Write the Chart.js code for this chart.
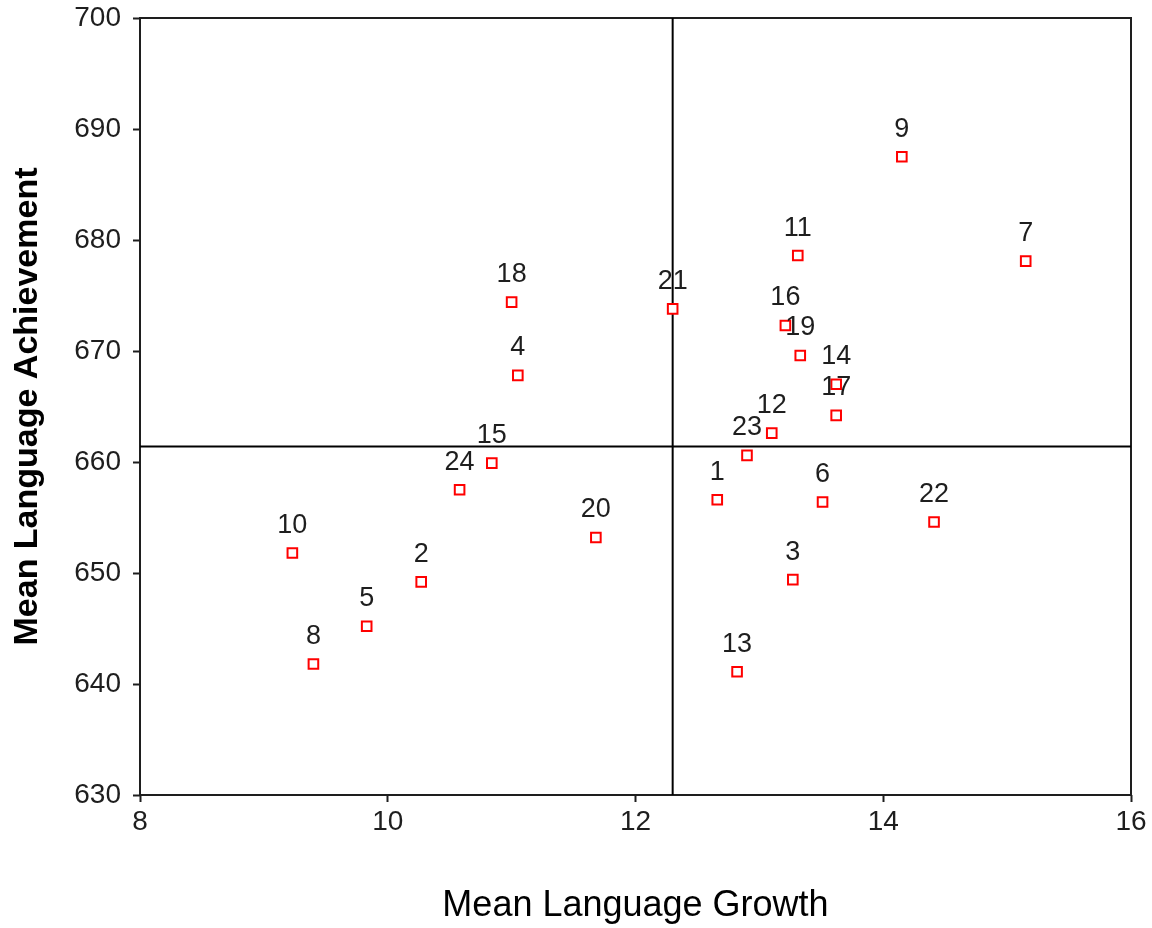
<!DOCTYPE html>
<html>
<head>
<meta charset="utf-8">
<title>Mean Language Growth vs Achievement</title>
<script src="https://cdn.jsdelivr.net/npm/chart.js@4/dist/chart.umd.min.js"></script>
<style>
  html, body { margin: 0; padding: 0; background: #ffffff; }
  canvas { display: block; }
</style>
</head>
<body>
<canvas id="chart" width="1152" height="928"></canvas>
<script>
// School identifiers shown above each marker
const schoolIds = [1, 2, 3, 4, 5, 6, 7, 8, 9, 10, 11, 12, 13, 14, 15, 16, 17, 18, 19, 20, 21, 22, 23, 24];

// Mean language growth per school (x)
const growth = [12.66, 10.27, 13.27, 11.05, 9.83, 13.51, 15.15, 9.40, 14.15, 9.23, 13.31, 13.10,
                12.82, 13.62, 10.84, 13.21, 13.62, 11.00, 13.33, 11.68, 12.30, 14.41, 12.90, 10.58];

// Mean language achievement per school (y)
const achievement = [656.6, 649.2, 649.4, 667.8, 645.2, 656.4, 678.1, 641.8, 687.5, 651.8, 678.6, 662.6,
                     641.1, 667.0, 659.9, 672.3, 664.2, 674.4, 669.6, 653.2, 673.8, 654.6, 660.6, 657.5];

// Overall means marking the quadrant lines
const growthMean = 12.30;
const achievementMean = 661.4;

// Axis ticks
const xTicks = [8, 10, 12, 14, 16];
const yTicks = [630, 640, 650, 660, 670, 680, 690, 700];

const FONT = '"Liberation Sans", Arial, Helvetica, sans-serif';
const INK = '#1e1e1e';

// Number labels drawn above every school marker
const pointLabels = {
  id: 'pointLabels',
  afterDatasetsDraw(chart) {
    const meta = chart.getDatasetMeta(0);
    const ctx = chart.ctx;
    ctx.save();
    ctx.font = '27px ' + FONT;
    ctx.fillStyle = INK;
    ctx.textAlign = 'center';
    ctx.textBaseline = 'alphabetic';
    meta.data.forEach((el, i) => {
      ctx.fillText(String(schoolIds[i]), el.x, el.y - 20);
    });
    ctx.restore();
  }
};

// Box around the plotting area
const plotFrame = {
  id: 'plotFrame',
  beforeDatasetsDraw(chart) {
    const { ctx, chartArea: a } = chart;
    ctx.save();
    ctx.strokeStyle = INK;
    ctx.lineWidth = 2;
    ctx.strokeRect(a.left, a.top, a.right - a.left, a.bottom - a.top);
    ctx.restore();
  }
};

new Chart(document.getElementById('chart'), {
  type: 'scatter',
  data: {
    datasets: [
      {
        label: 'Schools',
        data: growth.map((g, i) => ({ x: g, y: achievement[i] })),
        pointStyle: 'rect',
        pointRadius: 6.8,
        pointHoverRadius: 6.8,
        borderWidth: 2,
        borderColor: '#ff0000',
        backgroundColor: '#ffffff',
        order: 0
      },
      {
        label: 'Mean growth',
        data: [{ x: growthMean, y: yTicks[0] }, { x: growthMean, y: yTicks[yTicks.length - 1] }],
        showLine: true,
        pointRadius: 0,
        borderColor: '#000000',
        borderWidth: 2,
        order: 1
      },
      {
        label: 'Mean achievement',
        data: [{ x: xTicks[0], y: achievementMean }, { x: xTicks[xTicks.length - 1], y: achievementMean }],
        showLine: true,
        pointRadius: 0,
        borderColor: '#000000',
        borderWidth: 2,
        order: 1
      }
    ]
  },
  options: {
    responsive: false,
    animation: false,
    devicePixelRatio: 1,
    layout: { padding: { left: 0, right: 21, top: 18, bottom: 0 } },
    plugins: {
      legend: { display: false },
      tooltip: { enabled: false }
    },
    scales: {
      x: {
        type: 'linear',
        min: xTicks[0],
        max: xTicks[xTicks.length - 1],
        afterBuildTicks: (s) => { s.ticks = xTicks.map(v => ({ value: v })); },
        afterFit: (s) => { s.height = 133; s.paddingLeft = 0; s.paddingRight = 0; },
        border: { display: false },
        grid: {
          drawOnChartArea: false,
          drawTicks: true,
          tickLength: 7,
          tickColor: INK,
          tickWidth: 2
        },
        ticks: {
          color: INK,
          padding: 3,
          font: { family: FONT, size: 28 },
          maxRotation: 0
        },
        title: {
          display: true,
          text: 'Mean Language Growth',
          color: '#000000',
          font: { family: FONT, size: 36 },
          padding: { top: 0, bottom: 0 }
        }
      },
      y: {
        type: 'linear',
        min: yTicks[0],
        max: yTicks[yTicks.length - 1],
        afterBuildTicks: (s) => { s.ticks = yTicks.map(v => ({ value: v })); },
        afterFit: (s) => { s.width = 140; s.paddingTop = 0; s.paddingBottom = 0; },
        border: { display: false },
        grid: {
          drawOnChartArea: false,
          drawTicks: true,
          tickLength: 7,
          tickColor: INK,
          tickWidth: 2
        },
        ticks: {
          color: INK,
          padding: 12,
          font: { family: FONT, size: 28 }
        },
        title: {
          display: true,
          text: 'Mean Language Achievement',
          color: '#000000',
          font: { family: FONT, size: 34, weight: 'bold' },
          padding: { top: 7, bottom: 0 }
        }
      }
    }
  },
  plugins: [plotFrame, pointLabels]
});
</script>
</body>
</html>
